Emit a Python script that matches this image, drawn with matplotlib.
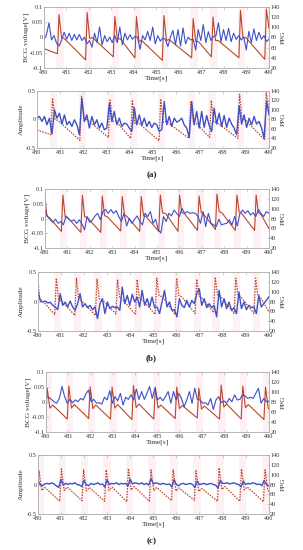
import numpy as np
import matplotlib
matplotlib.use('Agg')
from matplotlib import pyplot as plt

plt.rcParams['font.family'] = ['Liberation Serif', 'DejaVu Serif']

# ---- PPG vertices (time [s], value) ----
ppg_a_t = [480.0, 480.60, 480.67, 480.78, 480.90, 481.85, 481.92, 482.03, 482.15, 483.08, 483.15,
           483.26, 483.38, 484.04, 484.11, 484.22, 484.34, 485.26, 485.33, 485.44, 485.56, 486.56,
           486.63, 486.74, 486.86, 487.44, 487.51, 487.62, 487.74, 488.66, 488.73, 488.84, 488.96,
           489.81, 489.88, 489.99, 490.0]
ppg_a_v = [58, 48, 125, 80, 78, 36, 129, 78, 80, 42, 121, 76, 78, 40, 121, 72, 74, 35, 123, 74, 76,
           40, 117, 72, 72, 42, 120, 74, 74, 40, 133, 80, 80, 37, 136, 100, 98]

ppg_b_t = [480.0, 480.08, 480.2, 480.73, 480.80, 480.90, 481.02, 481.60, 481.67, 481.77, 481.89,
           482.49, 482.56, 482.66, 482.78, 483.38, 483.45, 483.55, 483.67, 484.23, 484.30, 484.40,
           484.52, 485.08, 485.15, 485.25, 485.40, 485.94, 486.01, 486.11, 486.23, 486.81, 486.88,
           486.98, 487.10, 487.61, 487.68, 487.78, 487.90, 488.50, 488.57, 488.67, 488.79, 489.36,
           489.43, 489.53, 489.65, 490.0]
ppg_b_v = [128, 85, 82, 54, 128, 84, 82, 52, 128, 84, 82, 52, 126, 86, 84, 55, 125, 88, 84, 54, 125,
           86, 84, 54, 128, 92, 90, 54, 128, 92, 90, 56, 126, 92, 88, 58, 130, 94, 92, 56, 128, 94,
           90, 56, 128, 92, 88, 60]

ppg_c_t = [480.0, 480.05, 480.17, 480.30, 480.95, 481.02, 481.14, 481.27, 481.91, 481.98, 482.10,
           482.23, 482.89, 482.96, 483.08, 483.21, 483.85, 483.92, 484.04, 484.17, 484.83, 484.90,
           485.02, 485.15, 485.79, 485.86, 485.98, 486.11, 486.78, 486.85, 486.97, 487.10, 487.78,
           487.85, 487.97, 488.10, 488.75, 488.82, 488.94, 489.07, 489.77, 489.84, 489.96, 490.0]
ppg_c_v = [55, 108, 68, 74, 46, 112, 68, 75, 47, 110, 67, 74, 46, 110, 68, 75, 45, 113, 69, 76, 46,
           110, 68, 74, 47, 110, 67, 73, 48, 108, 66, 72, 46, 114, 70, 76, 46, 112, 69, 75, 45, 110,
           68, 66]

# ---- BCG (top) and decomposed amplitude (bottom), evenly sampled over 480-490 s ----
bcg_a = [-0.006, 0.009, 0.048, -0.008, 0.006, -0.019, -0.028, -0.008, 0.017, -0.006, 0.014, -0.010,
         0.010, -0.008, 0.010, -0.010, 0.001, -0.021, -0.010, -0.032, 0.014, -0.017, 0.034, -0.024,
         0.006, -0.014, 0.001, -0.017, 0.006, -0.017, 0.034, -0.024, 0.014, -0.008, 0.009, -0.006,
         0.003, 0.001, -0.039, 0.006, -0.008, 0.020, -0.010, 0.034, -0.021, 0.006, -0.012, -0.002,
         -0.006, -0.030, 0.001, 0.023, -0.024, 0.026, -0.028, 0.031, -0.021, 0.001, -0.008, -0.006,
         -0.041, 0.026, -0.010, 0.042, -0.017, 0.019, -0.010, 0.003, 0.006, 0.048, -0.014, 0.026,
         -0.010, 0.030, -0.014, 0.014, -0.006, 0.006, -0.008, 0.001, -0.041, 0.020, -0.017, 0.028,
         -0.010, 0.017, -0.006, 0.006, -0.013, -0.006]
amp_a = [0.023, 0.052, -0.035, 0.052, -0.093, 0.023, -0.256, 0.169, 0.023, 0.110, -0.081, 0.081,
         -0.093, -0.035, -0.122, -0.006, -0.093, -0.267, 0.372, -0.035, 0.081, -0.151, 0.052, -0.093,
         -0.006, -0.151, -0.064, -0.180, -0.151, 0.285, -0.035, 0.140, -0.093, 0.023, -0.122, -0.064,
         -0.081, -0.151, -0.209, 0.209, -0.093, 0.081, -0.105, 0.023, -0.122, -0.035, -0.140, -0.064,
         -0.093, -0.209, -0.180, 0.314, -0.093, 0.052, -0.122, 0.023, -0.047, -0.023, 0.023, -0.093,
         -0.151, -0.314, 0.314, -0.093, 0.140, -0.151, 0.140, -0.140, 0.070, -0.105, -0.209, 0.198,
         -0.081, 0.110, -0.122, 0.070, -0.140, 0.023, -0.081, -0.151, -0.267, 0.244, -0.081, 0.081,
         -0.140, 0.023, -0.093, 0.052, -0.081, -0.035, -0.151, -0.326, 0.314, 0.081]
bcg_b = [0.029, 0.007, -0.004, -0.013, -0.002, -0.016, -0.010, -0.021, 0.009, -0.002, -0.009,
         -0.004, -0.016, -0.004, -0.018, -0.038, 0.007, -0.013, -0.004, 0.009, 0.018, -0.004, 0.024,
         0.031, 0.018, 0.031, 0.018, 0.027, 0.007, -0.010, 0.018, -0.025, 0.001, -0.016, -0.002,
         0.009, -0.010, -0.021, 0.018, 0.007, 0.024, -0.016, -0.002, -0.038, -0.049, 0.007, -0.010,
         0.018, 0.009, 0.029, 0.018, 0.007, 0.035, 0.018, 0.024, 0.018, 0.020, 0.018, 0.009, -0.016,
         0.024, -0.027, 0.018, -0.016, -0.021, -0.027, -0.002, -0.021, -0.018, -0.016, -0.004,
         -0.021, 0.007, -0.025, 0.018, 0.029, 0.018, 0.027, 0.012, 0.020, 0.007, 0.031, 0.018, 0.007,
         0.024, 0.018]
amp_b = [0.191, 0.011, -0.006, 0.011, -0.022, -0.011, -0.062, -0.090, -0.135, 0.135, -0.062,
         -0.006, -0.090, 0.011, -0.090, -0.146, -0.034, 0.135, -0.090, -0.034, -0.101, -0.062,
         -0.135, -0.090, -0.287, -0.034, 0.051, -0.202, -0.006, -0.118, -0.079, -0.101, -0.090,
         -0.146, 0.247, -0.034, 0.107, -0.062, 0.124, -0.006, 0.079, -0.090, 0.191, -0.062, 0.051,
         -0.090, 0.079, -0.101, -0.090, -0.202, -0.006, 0.191, -0.090, -0.006, -0.146, -0.135,
         -0.258, 0.051, -0.062, -0.101, 0.022, -0.090, 0.022, -0.034, 0.135, 0.219, -0.062, 0.051,
         -0.101, -0.034, -0.101, -0.062, -0.258, 0.191, -0.090, 0.051, -0.118, -0.006, -0.146,
         -0.101, -0.202, 0.163, -0.118, -0.006, -0.135, -0.062, -0.101, -0.090, -0.202, 0.107,
         -0.090, -0.034, 0.022, 0.079]
bcg_c = [0.018, 0.016, 0.009, 0.001, -0.004, 0.012, 0.052, 0.018, -0.004, 0.009, -0.002, 0.007,
         0.001, 0.012, 0.007, 0.027, 0.040, 0.001, 0.009, -0.004, -0.002, -0.007, 0.016, 0.007,
         0.038, -0.004, 0.018, 0.004, 0.029, -0.010, 0.016, 0.009, 0.024, 0.007, 0.043, 0.009, 0.035,
         0.009, 0.029, 0.052, 0.012, 0.046, 0.007, 0.016, 0.004, 0.018, 0.035, -0.004, 0.035, 0.007,
         0.029, 0.012, -0.016, 0.007, 0.035, -0.004, 0.046, 0.009, 0.007, -0.004, -0.002, -0.010,
         0.012, -0.025, 0.007, 0.018, -0.002, 0.004, -0.004, 0.012, 0.001, 0.024, 0.007, 0.009,
         0.024, 0.020, 0.012, 0.016, 0.012, 0.029, 0.046, -0.004, 0.012, 0.001, 0.004]
amp_c = [0.07, 0.0, -0.02, 0.01, 0.02, 0.01, 0.03, 0.01, -0.02, -0.05, 0.09, -0.01, 0.02, 0.0,
         0.02, 0.01, 0.03, 0.0, -0.01, -0.03, 0.07, 0.0, -0.02, 0.02, 0.0, 0.01, 0.03, 0.0, 0.01,
         -0.04, 0.08, 0.0, 0.02, 0.01, 0.03, 0.0, 0.02, 0.01, 0.02, -0.03, 0.09, 0.01, 0.03, 0.02,
         0.01, 0.03, 0.0, 0.02, -0.01, 0.10, 0.01, 0.03, 0.02, 0.0, 0.02, 0.01, 0.0, 0.01, -0.04,
         0.08, 0.0, -0.02, 0.01, 0.02, 0.0, 0.01, 0.02, 0.0, -0.05, 0.06, 0.0, 0.01, 0.02, 0.0, 0.01,
         0.02, 0.0, -0.01, -0.06, 0.07, 0.02, 0.02, 0.03, 0.01, 0.02, 0.03, 0.01, 0.0, -0.04, 0.06,
         0.0, 0.02, 0.01, 0.03, 0.02, 0.0, 0.01, -0.02, 0.07, 0.0, -0.02]

xticks = list(range(480, 491))
ppg_ticks = [20, 40, 60, 80, 100, 120, 140]

RED = '#b9472d'
BLUE = '#3d50c6'
PINK = '#fdf1f6'
GRAY = '#b0b0b0'
TXT = '#333333'
FS = 4.5


def style(ax, right=False):
    for s in ax.spines.values():
        s.set_color(GRAY)
        s.set_linewidth(0.5)
    ax.tick_params(direction='in', length=1.8, width=0.4, colors=GRAY, labelcolor=TXT,
                   labelsize=FS, pad=1, top=not right)
    ax.tick_params(axis='x', pad=1.6)


def panel(rect, sig, ppg_t, ppg_v, top):
    ax = fig.add_axes(rect)
    tw = ax.twinx()
    ax.set_zorder(tw.get_zorder() + 1)
    ax.patch.set_visible(False)
    # faint pink shading around each PPG upstroke
    pk = [ppg_t[i] for i in range(1, len(ppg_v) - 1)
          if ppg_v[i] > ppg_v[i - 1] and ppg_v[i] > ppg_v[i + 1] and ppg_v[i] > 100]
    for p in pk:
        tw.axvspan(p - 0.12, p + 0.2, color=PINK, lw=0, zorder=0)
    t = np.linspace(480, 490, len(sig))
    if top:
        tw.plot(ppg_t, ppg_v, color=RED, lw=0.8)
        ax.plot(t, sig, color=BLUE, lw=0.8)
        ax.set_ylim(-0.1, 0.1)
        ax.set_yticks([-0.1, -0.05, 0, 0.05, 0.1])
        ax.set_yticklabels(['-0.1', '-0.05', '0', '0.05', '0.1'])
        ax.set_ylabel('BCG voltage[V]', fontsize=5.3, labelpad=0.5, color=TXT)
    else:
        tw.plot(ppg_t, ppg_v, color=RED, lw=0.9, ls=(0, (1.2, 1.0)))
        ax.plot(t, sig, color=BLUE, lw=1.0)
        ax.set_ylim(-0.5, 0.5)
        ax.set_yticks([-0.5, 0, 0.5])
        ax.set_yticklabels(['-0.5', '0', '0.5'])
        ax.set_ylabel('Amplitude', fontsize=5.3, labelpad=1.5, color=TXT)
    tw.set_ylim(20, 140)
    tw.set_yticks(ppg_ticks)
    tw.set_ylabel('PPG', fontsize=5.3, labelpad=1, color=TXT)
    ax.set_xlim(480, 490)
    ax.set_xticks(xticks)
    ax.set_xlabel('Time[s]', fontsize=5.3, labelpad=0.3, color=TXT)
    style(ax)
    style(tw, right=True)
    return ax


fig = plt.figure(figsize=(3.03, 5.5), dpi=100)

panel([0.145, 0.8764, 0.743, 0.111], bcg_a, ppg_a_t, ppg_a_v, True)
panel([0.122, 0.731, 0.766, 0.1036], amp_a, ppg_a_t, ppg_a_v, False)
panel([0.1485, 0.549, 0.739, 0.107], bcg_b, ppg_b_t, ppg_b_v, True)
panel([0.125, 0.398, 0.762, 0.107], amp_b, ppg_b_t, ppg_b_v, False)
panel([0.152, 0.2145, 0.736, 0.109], bcg_c, ppg_c_t, ppg_c_v, True)
panel([0.125, 0.0655, 0.762, 0.107], amp_c, ppg_c_t, ppg_c_v, False)

for lab, y in [('(a)', 0.682), ('(b)', 0.349), ('(c)', 0.016)]:
    fig.text(0.5, y, lab, ha='center', va='center', fontsize=6.5, fontweight='bold', color='#222222')

fig.savefig('out.png', dpi=100)
